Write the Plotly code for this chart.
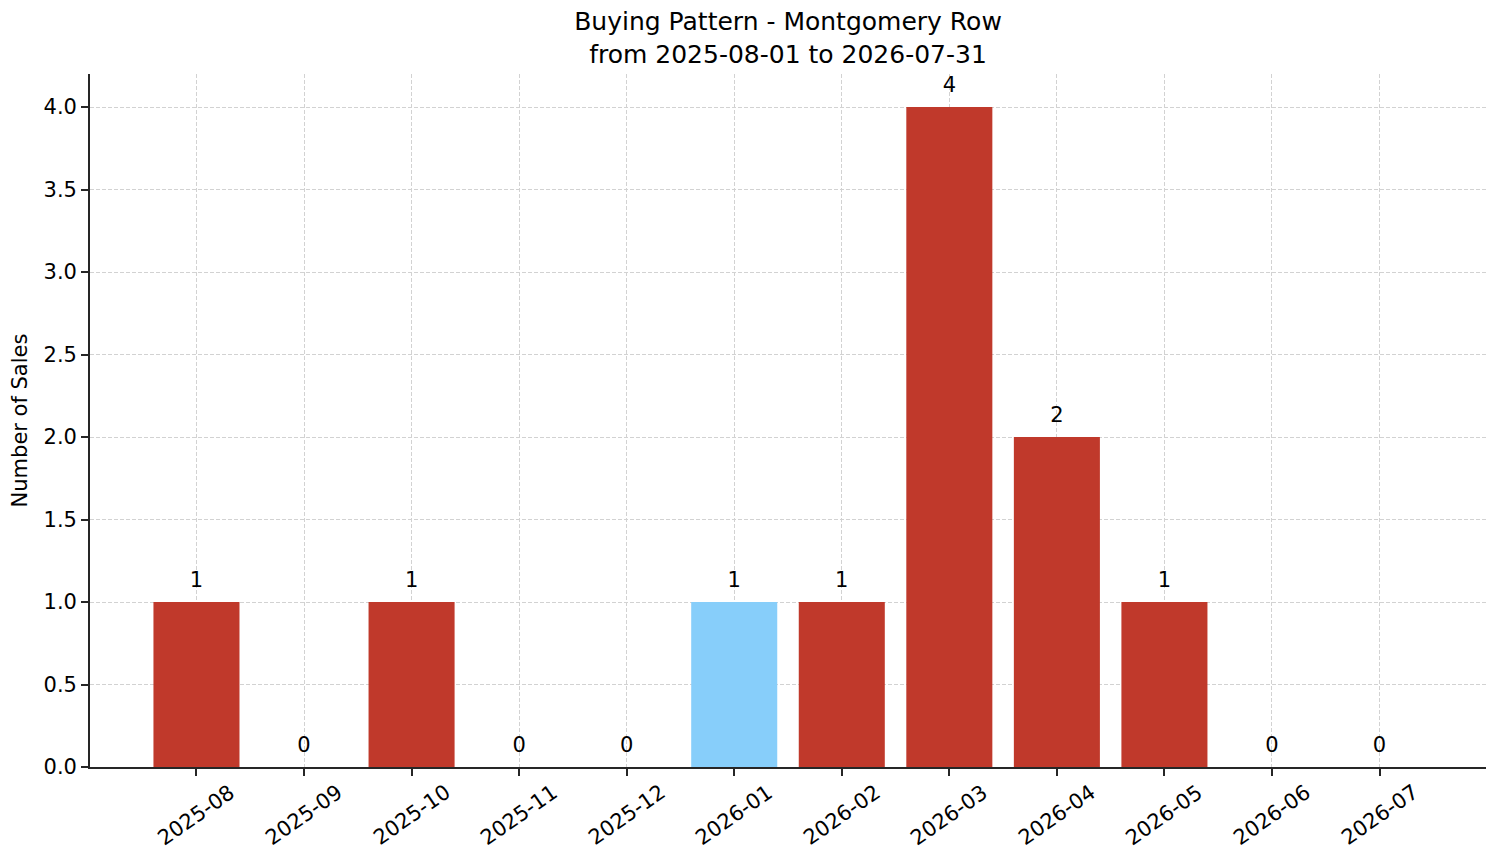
import plotly.graph_objects as go

# Dados do gráfico
meses = ["2025-08", "2025-09", "2025-10", "2025-11", "2025-12", "2026-01",
         "2026-02", "2026-03", "2026-04", "2026-05", "2026-06", "2026-07"]
vendas = [1, 0, 1, 0, 0, 1, 1, 4, 2, 1, 0, 0]
mes_destaque = "2026-01"

y_ticks = [0.0, 0.5, 1.0, 1.5, 2.0, 2.5, 3.0, 3.5, 4.0]

cor_barra = "#c0392b"
cor_destaque = "#87cefa"
cor_grid = "#d2d2d2"
cor_eixo = "#262626"

cores = [cor_destaque if m == mes_destaque else cor_barra for m in meses]

fig = go.Figure()

fig.add_trace(
    go.Bar(
        x=meses,
        y=vendas,
        marker=dict(color=cores, line=dict(width=0)),
        width=0.8,
        showlegend=False,
        hoverinfo="x+y",
    )
)

# Rótulos acima das barras (inclusive as de valor zero)
# o marcador invisível serve só para afastar o texto do topo da barra
fig.add_trace(
    go.Scatter(
        x=meses,
        y=vendas,
        mode="markers+text",
        marker=dict(size=14, opacity=0),
        text=[str(v) for v in vendas],
        textposition="top center",
        textfont=dict(size=21, color="black"),
        showlegend=False,
        hoverinfo="skip",
    )
)

# Labels do eixo X giradas em torno do centro (como no matplotlib)
for m in meses:
    fig.add_annotation(
        x=m, xref="x",
        y=0, yref="paper",
        yshift=-10,
        text=m,
        textangle=-35,
        xanchor="center",
        yanchor="top",
        showarrow=False,
        font=dict(size=21, color="black"),
    )

fig.update_layout(
    title=dict(
        text="Buying Pattern - Montgomery Row<br>from 2025-08-01 to 2026-07-31",
        x=0.5,
        xref="paper",
        xanchor="center",
        y=0.974,
        yanchor="top",
        font=dict(size=25, color="black"),
    ),
    font=dict(family="DejaVu Sans", color="black", size=21),
    width=1485,
    height=847,
    plot_bgcolor="white",
    paper_bgcolor="white",
    margin=dict(l=82, r=7, t=66, b=88),
    xaxis=dict(
        type="category",
        range=[-0.99, 11.99],
        showgrid=True,
        gridcolor=cor_grid,
        griddash="4px,2px",
        gridwidth=0.8,
        showline=True,
        linecolor=cor_eixo,
        linewidth=1.7,
        ticks="outside",
        ticklen=7,
        tickwidth=1.7,
        tickcolor=cor_eixo,
        showticklabels=False,
        zeroline=False,
        layer="above traces",
    ),
    yaxis=dict(
        title=dict(text="Number of Sales", font=dict(size=21), standoff=10),
        range=[0, 4.2],
        tickvals=y_ticks,
        ticktext=[f"{v:.1f}" for v in y_ticks],
        showgrid=True,
        gridcolor=cor_grid,
        griddash="4px,2px",
        gridwidth=0.8,
        showline=True,
        linecolor=cor_eixo,
        linewidth=1.7,
        ticks="outside",
        ticklen=7,
        tickwidth=1.7,
        tickcolor=cor_eixo,
        tickfont=dict(size=21),
        zeroline=False,
        layer="above traces",
    ),
)

fig.write_html("out.html")
